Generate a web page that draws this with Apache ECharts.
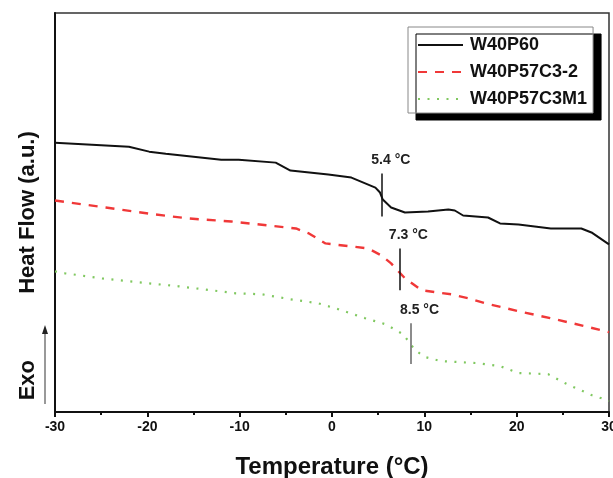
<!DOCTYPE html>
<html>
<head>
<meta charset="utf-8">
<script src="https://cdn.jsdelivr.net/npm/echarts@6/dist/echarts.min.js"></script>
<style>
  html, body { margin: 0; padding: 0; background: #fff; }
  #chart { width: 613px; height: 478px; }
</style>
</head>
<body>
<div id="chart"></div>
<script>
// DSC heating traces: temperature (°C) vs heat flow (a.u.)
const seriesNames = ['W40P60', 'W40P57C3-2', 'W40P57C3M1'];

const tempW40P60 = [-30, -22.0, -19.8, -18.0, -12.0, -10.1, -6.1, -4.5, -0.4, 2.1, 4.7, 5.2, 5.5, 6.4, 7.9, 10.4, 12.6, 13.3, 14.2, 16.9, 18.2, 20.2, 23.7, 27.0, 28.1, 30];
const flowW40P60 = [27.0, 26.6, 26.1, 25.9, 25.3, 25.3, 25.0, 24.2, 23.8, 23.5, 22.5, 22.0, 21.3, 20.5, 20.0, 20.1, 20.3, 20.2, 19.7, 19.5, 18.9, 18.8, 18.4, 18.4, 18.0, 16.8];

const tempW40P57C3 = [-30, -24.5, -19.1, -15.5, -10.9, -3.9, -2.5, -0.7, 3.9, 5.35, 6.4, 7.9, 9.7, 12.9, 14.8, 16.6, 20.2, 23.7, 27.4, 30];
const flowW40P57C3 = [21.2, 20.5, 19.8, 19.4, 19.1, 18.4, 17.9, 16.9, 16.4, 15.7, 14.9, 13.4, 12.2, 11.8, 11.4, 10.9, 10.1, 9.4, 8.6, 8.0];

const tempW40P57C3M1 = [-30, -28.9, -24.9, -20.9, -16.6, -10.4, -7.6, -4.5, -1.5, 0.7, 3.6, 5.8, 7.7, 9.0, 10.1, 11.8, 15.8, 18.2, 20.2, 23.4, 25.2, 28.1, 29.1, 30];
const flowW40P57C3M1 = [14.1, 13.9, 13.4, 13.0, 12.6, 11.9, 11.8, 11.3, 10.9, 10.3, 9.4, 8.8, 7.8, 6.2, 5.5, 5.1, 4.9, 4.6, 3.9, 3.8, 2.9, 1.7, 1.4, 1.1];

// Transition temperatures marked on each trace, with the vertical extent of the marker
const transitionTemps = [5.4, 7.3, 8.5];
const markerTop = [23.9, 16.4, 8.9];
const markerBottom = [19.6, 12.2, 4.8];

const xTicks = [-30, -20, -10, 0, 10, 20, 30];

const FONT = '"Liberation Sans", Arial, sans-serif';

function pairs(xs, ys) { return xs.map((x, i) => [x, ys[i]]); }

function transitionMark(i, color) {
  return {
    silent: true,
    symbol: ['none', 'none'],
    lineStyle: { color: color, width: 1.5, type: 'solid' },
    label: {
      show: true,
      position: 'start',
      formatter: transitionTemps[i].toFixed(1) + ' °C',
      color: '#222',
      fontFamily: FONT,
      fontWeight: 'bold',
      fontSize: 14,
      distance: 6,
      offset: [9, 0]
    },
    data: [[
      { coord: [transitionTemps[i], markerTop[i]] },
      { coord: [transitionTemps[i], markerBottom[i]] }
    ]]
  };
}

const chart = echarts.init(document.getElementById('chart'), null, { renderer: 'canvas' });

chart.setOption({
  animation: false,
  backgroundColor: '#fff',
  grid: {
    left: 55, right: 4, top: 13, bottom: 66,
    outerBoundsMode: 'none',
    containLabel: false,
    show: true, borderColor: '#333', borderWidth: 1.5, backgroundColor: 'transparent'
  },
  legend: {
    orient: 'vertical',
    left: 408, top: 27,
    padding: [9, 6, 5, 9],
    itemWidth: 45, itemHeight: 14, itemGap: 9,
    backgroundColor: '#fff',
    borderColor: '#888', borderWidth: 1,
    shadowColor: '#000', shadowBlur: 0, shadowOffsetX: 8, shadowOffsetY: 7,
    itemStyle: { opacity: 0 },
    textStyle: { fontFamily: FONT, fontWeight: 'bold', fontSize: 18, color: '#111', padding: [0, 0, 0, 2] },
    data: seriesNames
  },
  xAxis: {
    type: 'value',
    min: -30, max: 30, interval: 10,
    name: 'Temperature (°C)',
    nameLocation: 'middle',
    nameGap: 43,
    nameTextStyle: { fontFamily: FONT, fontWeight: 'bold', fontSize: 24, color: '#111' },
    axisLine: { show: true, onZero: false, lineStyle: { color: '#111', width: 2 } },
    axisTick: { show: true, inside: false, length: 5, lineStyle: { color: '#111', width: 2 } },
    minorTick: { show: true, splitNumber: 2, length: 3, lineStyle: { color: '#111', width: 2 } },
    splitLine: { show: false },
    axisLabel: {
      margin: 8,
      fontFamily: FONT, fontWeight: 'bold', fontSize: 14, color: '#111',
      formatter: v => (xTicks.includes(v) ? String(v) : '')
    }
  },
  yAxis: {
    type: 'value',
    min: 0, max: 40,
    name: 'Heat Flow (a.u.)',
    nameLocation: 'middle',
    nameRotate: 90,
    nameGap: 16,
    nameTextStyle: { fontFamily: FONT, fontWeight: 'bold', fontSize: 22, color: '#111' },
    axisLine: { show: true, onZero: false, lineStyle: { color: '#111', width: 2 } },
    axisTick: { show: false },
    axisLabel: { show: false },
    splitLine: { show: false }
  },
  graphic: [
    {
      type: 'text',
      left: 17, top: 360,
      rotation: Math.PI / 2,
      originX: 0, originY: 0,
      style: { text: 'Exo', font: 'bold 22px ' + FONT, fill: '#111' },
      z: 10
    },
    {
      type: 'line',
      shape: { x1: 45, y1: 404, x2: 45, y2: 332 },
      style: { stroke: '#999', lineWidth: 2 },
      z: 10
    },
    {
      type: 'polygon',
      shape: { points: [[45, 325], [42, 334], [48, 334]] },
      style: { fill: '#222' },
      z: 10
    }
  ],
  series: [
    {
      name: seriesNames[0],
      type: 'line',
      data: pairs(tempW40P60, flowW40P60),
      showSymbol: false, symbol: 'none',
      lineStyle: { color: '#111', width: 2, type: 'solid' },
      itemStyle: { color: '#111' },
      markLine: transitionMark(0, '#111')
    },
    {
      name: seriesNames[1],
      type: 'line',
      data: pairs(tempW40P57C3, flowW40P57C3),
      showSymbol: false, symbol: 'none',
      lineStyle: { color: '#f03838', width: 2.4, type: [9, 8] },
      itemStyle: { color: '#f03838' },
      markLine: transitionMark(1, '#111')
    },
    {
      name: seriesNames[2],
      type: 'line',
      data: pairs(tempW40P57C3M1, flowW40P57C3M1),
      showSymbol: false, symbol: 'none',
      lineStyle: { color: '#80c860', width: 2.2, type: [2, 7.5] },
      itemStyle: { color: '#80c860' },
      markLine: transitionMark(2, '#666')
    }
  ]
});
</script>
</body>
</html>
